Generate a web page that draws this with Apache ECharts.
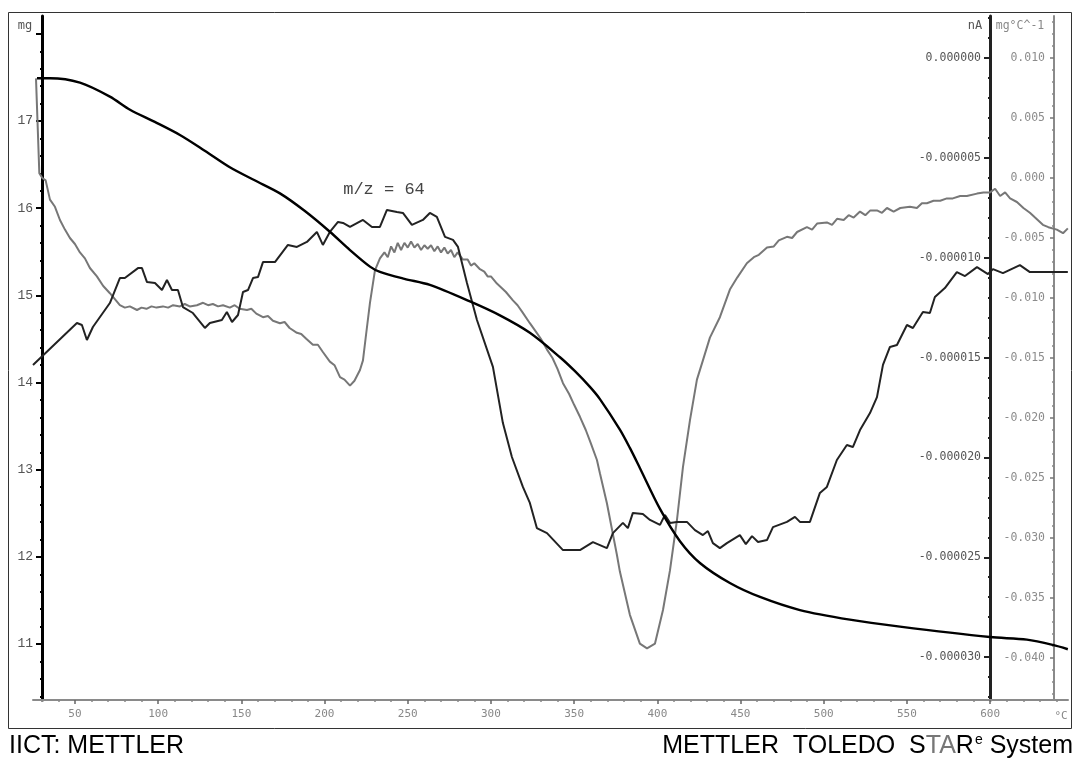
<!DOCTYPE html>
<html><head><meta charset="utf-8">
<script src="https://cdn.jsdelivr.net/npm/echarts@6/dist/echarts.min.js"></script>
<style>html,body{margin:0;padding:0;background:#fff}#c{width:1078px;height:760px}</style>
</head><body><div id="c"></div>
<script>
// ---- data (temperature in °C) ----
const tgT = [27.2, 35.0, 53.0, 71.0, 83.1, 98.0, 113.1, 128.0, 143.1, 158.0, 173.2, 188.0, 203.2, 215.3, 227.3, 233.3, 248.0, 263.3, 287.4, 305.4, 323.4, 341.5, 350.5, 359.5, 365.5, 377.5, 383.5, 389.5, 401.6, 413.6, 425.6, 443.6, 461.7, 485.7, 515.7, 545.8, 599.9, 622.1, 637.7, 646.7];
const tgMg = [17.49, 17.49, 17.44, 17.28, 17.13, 16.99, 16.84, 16.66, 16.47, 16.32, 16.17, 15.97, 15.73, 15.52, 15.33, 15.27, 15.19, 15.12, 14.93, 14.77, 14.57, 14.29, 14.13, 13.95, 13.81, 13.46, 13.25, 13.02, 12.55, 12.18, 11.93, 11.70, 11.54, 11.39, 11.28, 11.20, 11.08, 11.05, 10.99, 10.94];

const msT = [24.8, 51.2, 54.2, 57.2, 60.8, 71.0, 77.0, 80.0, 87.9, 90.3,
  93.3, 98.1, 102.3, 105.3, 108.3, 111.9, 114.9, 120.9, 128.1, 131.1,
  138.3, 141.3, 144.4, 148.0, 151.0, 154.0, 157.0, 160.0, 163.0, 170.2,
  178.0, 183.4, 189.4, 195.4, 199.0, 203.2, 208.1, 211.1, 215.3, 223.1,
  228.5, 233.3, 237.5, 243.5, 247.1, 252.5, 259.1, 263.3, 267.5, 272.4,
  277.2, 280.2, 285.6, 291.6, 301.2, 307.2, 312.6, 319.2, 323.4, 327.6,
  333.7, 343.3, 353.5, 361.3, 369.7, 373.3, 379.3, 382.3, 385.3, 391.3,
  395.6, 401.6, 404.6, 407.6, 411.8, 417.8, 422.6, 427.4, 430.4, 433.4,
  437.6, 441.8, 449.6, 453.2, 456.9, 460.5, 465.9, 469.5, 477.9, 482.7,
  485.7, 491.7, 497.7, 501.9, 507.9, 513.9, 517.5, 521.8, 527.8, 532.0,
  535.6, 539.8, 544.0, 550.0, 553.6, 559.6, 563.8, 566.8, 572.8, 580.0,
  584.9, 592.1, 598.7, 601.7, 607.7, 617.9, 623.9, 634.1, 646.7];
const msNA = [-15.37e-6, -13.27e-6, -13.37e-6, -14.12e-6, -13.47e-6, -12.27e-6, -11.02e-6, -11.02e-6, -10.52e-6, -10.52e-6,
  -11.22e-6, -11.27e-6, -11.62e-6, -11.12e-6, -11.62e-6, -11.62e-6, -12.47e-6, -12.77e-6, -13.52e-6, -13.27e-6,
  -13.12e-6, -12.72e-6, -13.22e-6, -12.87e-6, -11.72e-6, -11.62e-6, -11.02e-6, -10.97e-6, -10.22e-6, -10.22e-6,
  -9.36e-6, -9.46e-6, -9.21e-6, -8.71e-6, -9.36e-6, -8.71e-6, -8.21e-6, -8.26e-6, -8.46e-6, -8.11e-6,
  -8.46e-6, -8.46e-6, -7.61e-6, -7.71e-6, -7.76e-6, -8.36e-6, -8.11e-6, -7.76e-6, -7.96e-6, -8.96e-6,
  -9.11e-6, -9.46e-6, -11.27e-6, -13.12e-6, -15.47e-6, -18.28e-6, -19.98e-6, -21.48e-6, -22.28e-6, -23.54e-6,
  -23.79e-6, -24.64e-6, -24.64e-6, -24.24e-6, -24.54e-6, -23.79e-6, -23.28e-6, -23.54e-6, -22.78e-6, -22.83e-6,
  -23.13e-6, -23.38e-6, -22.88e-6, -23.28e-6, -23.23e-6, -23.23e-6, -23.64e-6, -23.89e-6, -23.69e-6, -24.29e-6,
  -24.54e-6, -24.29e-6, -23.89e-6, -24.34e-6, -23.94e-6, -24.24e-6, -24.14e-6, -23.49e-6, -23.23e-6, -22.98e-6,
  -23.23e-6, -23.23e-6, -21.78e-6, -21.48e-6, -20.13e-6, -19.38e-6, -19.48e-6, -18.63e-6, -17.78e-6, -16.98e-6,
  -15.37e-6, -14.47e-6, -14.37e-6, -13.37e-6, -13.52e-6, -12.72e-6, -12.77e-6, -11.97e-6, -11.52e-6, -10.72e-6,
  -10.92e-6, -10.47e-6, -10.82e-6, -10.57e-6, -10.77e-6, -10.37e-6, -10.72e-6, -10.72e-6, -10.72e-6];

const dtgT = [26.6, 28.6, 30.4, 32.4, 35.0, 38.0, 41.0, 44.0, 47.0, 50.0,
  53.0, 56.0, 59.0, 63.2, 67.0, 71.0, 74.0, 77.0, 80.0, 83.0,
  87.3, 90.0, 93.0, 96.0, 99.0, 102.9, 106.0, 109.0, 113.1, 116.0,
  119.0, 123.3, 127.0, 130.0, 132.9, 136.0, 139.0, 143.1, 146.0, 149.0,
  153.4, 156.0, 159.0, 163.0, 166.0, 169.0, 173.2, 176.0, 179.0, 183.4,
  186.0, 189.0, 193.0, 196.0, 199.0, 203.2, 206.0, 209.3, 212.0, 215.3,
  218.0, 221.3, 223.1, 225.0, 227.3, 230.3, 233.3, 236.0, 238.0, 240.0,
  242.0, 244.0, 246.0, 248.0, 250.0, 252.0, 254.0, 256.0, 258.0, 260.0,
  262.0, 264.0, 266.0, 268.0, 270.0, 272.0, 274.0, 276.0, 278.0, 280.0,
  283.2, 286.0, 288.0, 290.0, 293.4, 296.0, 298.0, 300.0, 303.6, 306.0,
  309.0, 313.2, 316.0, 319.0, 323.4, 327.0, 330.0, 333.7, 337.0, 340.0,
  343.3, 347.0, 350.0, 353.5, 357.0, 360.0, 363.7, 365.5, 369.7, 375.7,
  377.5, 383.5, 389.5, 393.8, 398.6, 403.4, 407.6, 411.8, 415.4, 419.6,
  423.8, 427.4, 431.6, 437.6, 443.6, 448.0, 453.8, 458.0, 461.0, 465.9,
  470.0, 473.0, 477.9, 481.0, 484.0, 489.9, 493.0, 496.0, 501.9, 505.0,
  508.0, 512.0, 515.0, 518.0, 521.8, 525.0, 528.0, 532.0, 535.0, 538.0,
  542.0, 546.0, 551.8, 556.0, 559.0, 562.0, 566.0, 570.0, 574.0, 577.6,
  582.0, 586.0, 592.1, 596.0, 599.9, 603.0, 606.0, 609.0, 612.0, 616.1,
  620.0, 623.9, 627.0, 631.7, 635.0, 640.1, 643.8, 646.7];
const dtgV = [0.0083, 0.0004, 0.0000, -0.0002, -0.0018, -0.0024, -0.0035, -0.0043, -0.0050, -0.0055,
  -0.0062, -0.0067, -0.0075, -0.0082, -0.0090, -0.0096, -0.0101, -0.0106, -0.0108, -0.0107,
  -0.0110, -0.0108, -0.0109, -0.0107, -0.0108, -0.0107, -0.0108, -0.0106, -0.0107, -0.0105,
  -0.0107, -0.0106, -0.0104, -0.0106, -0.0105, -0.0107, -0.0106, -0.0108, -0.0106, -0.0109,
  -0.0110, -0.0109, -0.0113, -0.0116, -0.0115, -0.0119, -0.0121, -0.0120, -0.0125, -0.0129,
  -0.0130, -0.0134, -0.0139, -0.0139, -0.0145, -0.0153, -0.0156, -0.0166, -0.0168, -0.0173,
  -0.0169, -0.0160, -0.0152, -0.0130, -0.0104, -0.0077, -0.0067, -0.0062, -0.0066, -0.0057,
  -0.0062, -0.0054, -0.0060, -0.0054, -0.0058, -0.0053, -0.0058, -0.0055, -0.0060, -0.0056,
  -0.0059, -0.0056, -0.0061, -0.0057, -0.0062, -0.0058, -0.0063, -0.0060, -0.0066, -0.0062,
  -0.0068, -0.0068, -0.0073, -0.0071, -0.0076, -0.0078, -0.0082, -0.0082, -0.0088, -0.0091,
  -0.0095, -0.0102, -0.0106, -0.0112, -0.0121, -0.0128, -0.0134, -0.0143, -0.0150, -0.0159,
  -0.0171, -0.0180, -0.0189, -0.0199, -0.0210, -0.0221, -0.0235, -0.0246, -0.0271, -0.0314,
  -0.0328, -0.0364, -0.0388, -0.0392, -0.0388, -0.0360, -0.0327, -0.0285, -0.0241, -0.0202,
  -0.0168, -0.0152, -0.0133, -0.0116, -0.0093, -0.0083, -0.0071, -0.0066, -0.0064, -0.0058,
  -0.0057, -0.0052, -0.0049, -0.0050, -0.0045, -0.0041, -0.0043, -0.0038, -0.0037, -0.0039,
  -0.0034, -0.0035, -0.0031, -0.0033, -0.0028, -0.0031, -0.0027, -0.0027, -0.0029, -0.0025,
  -0.0028, -0.0025, -0.0024, -0.0025, -0.0021, -0.0021, -0.0019, -0.0019, -0.0017, -0.0017,
  -0.0015, -0.0015, -0.0013, -0.0012, -0.0012, -0.0009, -0.0015, -0.0012, -0.0017, -0.0020,
  -0.0025, -0.0029, -0.0033, -0.0039, -0.0041, -0.0043, -0.0046, -0.0042];

// ---- tick values ----
const xMajor = [50, 100, 150, 200, 250, 300, 350, 400, 450, 500, 550, 600];
const xMinor = [30, 40, 60, 70, 80, 90, 110, 120, 130, 140, 160, 170, 180, 190, 210, 220, 230, 240, 260, 270, 280, 290, 310, 320, 330, 340, 360, 370, 380, 390, 410, 420, 430, 440, 460, 470, 480, 490, 510, 520, 530, 540, 560, 570, 580, 590, 610, 620, 630, 640];
const mgMajor = [11, 12, 13, 14, 15, 16, 17, 18];
const mgMinor = [10.4, 10.6, 10.8, 11.2, 11.4, 11.6, 11.8, 12.2, 12.4, 12.6, 12.8, 13.2, 13.4, 13.6, 13.8, 14.2, 14.4, 14.6, 14.8, 15.2, 15.4, 15.6, 15.8, 16.2, 16.4, 16.6, 16.8, 17.2, 17.4, 17.6, 17.8];
const naMajor = [0, -0.000005, -0.00001, -0.000015, -0.00002, -0.000025, -0.00003];
const naMinor = [0.000002, 0.000001, -0.000001, -0.000002, -0.000003, -0.000004, -0.000006, -0.000007, -0.000008, -0.000009, -0.000011, -0.000012, -0.000013, -0.000014, -0.000016, -0.000017, -0.000018, -0.000019, -0.000021, -0.000022, -0.000023, -0.000024, -0.000026, -0.000027, -0.000028, -0.000029, -0.000031, -0.000032];
const dtgMajor = [0.01, 0.005, 0, -0.005, -0.01, -0.015, -0.02, -0.025, -0.03, -0.035, -0.04];
const dtgMinor = [0.013, 0.012, 0.011, 0.009, 0.008, 0.007, 0.006, 0.004, 0.003, 0.002, 0.001, -0.001, -0.002, -0.003, -0.004, -0.006, -0.007, -0.008, -0.009, -0.011, -0.012, -0.013, -0.014, -0.016, -0.017, -0.018, -0.019, -0.021, -0.022, -0.023, -0.024, -0.026, -0.027, -0.028, -0.029, -0.031, -0.032, -0.033, -0.034, -0.036, -0.037, -0.038, -0.039, -0.041, -0.042, -0.043];

const zip = (a, b) => a.map((v, i) => [v, b[i]]);
const MONO = 'DejaVu Sans Mono';

const X_MIN = 24.8, X_MAX = 646.8;
const MG = {min: 10.358, max: 18.205};
const NA = {min: -0.000032148, max: 0.000002103};
const DT = {min: -0.0435, max: 0.0135};

function yAx(range, pos, offset, cfg) {
  return Object.assign({
    type: 'value', position: pos, offset: offset, min: range.min, max: range.max,
    splitLine: {show: false}, axisLine: {show: false, onZero: false},
    axisTick: {show: false}, axisLabel: {show: false}
  }, cfg);
}

const chart = echarts.init(document.getElementById('c'), null, {renderer: 'canvas'});
chart.setOption({
  backgroundColor: '#fff',
  animation: false,
  grid: {left: 33, right: 10, top: 16, bottom: 60, containLabel: false},
  xAxis: [
    {type: 'value', min: X_MIN, max: X_MAX, position: 'bottom',
     splitLine: {show: false},
     axisLine: {onZero: false, lineStyle: {color: '#8a8a8a', width: 2}},
     axisTick: {customValues: xMajor, length: 4, lineStyle: {color: '#666', width: 1.5}},
     axisLabel: {customValues: xMajor, margin: 9, color: '#888', fontFamily: MONO, fontSize: 11}},
    {type: 'value', min: X_MIN, max: X_MAX, position: 'bottom',
     splitLine: {show: false}, axisLine: {show: false, onZero: false},
     axisTick: {customValues: xMinor, length: 2, lineStyle: {color: '#888', width: 1.5}},
     axisLabel: {show: false}}
  ],
  yAxis: [
    yAx(MG, 'left', -9, {
      axisLine: {show: true, onZero: false, lineStyle: {color: '#000', width: 3}},
      axisTick: {show: true, customValues: mgMajor, length: 6, lineStyle: {color: '#000', width: 2}},
      axisLabel: {show: true, customValues: mgMajor, margin: 9, color: '#555', fontFamily: 'Liberation Mono', fontSize: 13,
        formatter: v => (v >= 17.9 ? '' : String(v))}
    }),
    yAx(MG, 'left', -9, {
      axisTick: {show: true, customValues: mgMinor, length: 2, lineStyle: {color: '#000', width: 2}}
    }),
    yAx(NA, 'right', -78, {
      axisLine: {show: true, onZero: false, lineStyle: {color: '#222', width: 3}},
      axisTick: {show: true, inside: true, customValues: naMajor, length: 6, lineStyle: {color: '#222', width: 2}},
      axisLabel: {show: true, inside: true, customValues: naMajor, margin: 9, color: '#555', fontFamily: MONO, fontSize: 11.5,
        formatter: v => v.toFixed(6)}
    }),
    yAx(NA, 'right', -78, {
      axisTick: {show: true, inside: true, customValues: naMinor, length: 2, lineStyle: {color: '#222', width: 2}}
    }),
    yAx(DT, 'right', -14, {
      axisLine: {show: true, onZero: false, lineStyle: {color: '#8a8a8a', width: 2}},
      axisTick: {show: true, inside: true, customValues: dtgMajor, length: 4, lineStyle: {color: '#777', width: 1.5}},
      axisLabel: {show: true, inside: true, customValues: dtgMajor, margin: 9, color: '#8c8c8c', fontFamily: MONO, fontSize: 11.5,
        formatter: v => v.toFixed(3)}
    }),
    yAx(DT, 'right', -14, {
      axisTick: {show: true, inside: true, customValues: dtgMinor, length: 2, lineStyle: {color: '#888', width: 1.5}}
    })
  ],
  series: [
    {name: 'DTG', type: 'line', xAxisIndex: 0, yAxisIndex: 4, data: zip(dtgT, dtgV),
     showSymbol: false, smooth: false, lineStyle: {color: '#777', width: 2}, z: 3},
    {name: 'm/z 64', type: 'line', xAxisIndex: 0, yAxisIndex: 2, data: zip(msT, msNA),
     showSymbol: false, smooth: false, lineStyle: {color: '#222', width: 2}, z: 4},
    {name: 'TG', type: 'line', xAxisIndex: 0, yAxisIndex: 0, data: zip(tgT, tgMg),
     showSymbol: false, smooth: 0.3, lineStyle: {color: '#000', width: 2.4}, z: 5}
  ],
  graphic: [
    {type: 'rect', shape: {x: 8.5, y: 12.5, width: 1063, height: 716}, style: {fill: 'none', stroke: '#333', lineWidth: 1}, silent: true},
    {type: 'text', x: 25, y: 26, style: {text: 'mg', fill: '#555', font: '12px ' + MONO, align: 'center', verticalAlign: 'middle'}},
    {type: 'text', x: 975, y: 26, style: {text: 'nA', fill: '#555', font: '12px ' + MONO, align: 'center', verticalAlign: 'middle'}},
    {type: 'text', x: 1020, y: 26, style: {text: 'mg°C^-1', fill: '#888', font: '11.5px ' + MONO, align: 'center', verticalAlign: 'middle'}},
    {type: 'text', x: 1061, y: 716, style: {text: '°C', fill: '#888', font: '11px ' + MONO, align: 'center', verticalAlign: 'middle'}},
    {type: 'text', x: 384, y: 189, style: {text: 'm/z = 64', fill: '#444', font: '17px "Liberation Mono"', align: 'center', verticalAlign: 'middle'}},
    {type: 'text', x: 9, y: 746, style: {text: 'IICT: METTLER', fill: '#000', font: '25px "Liberation Sans"', align: 'left', verticalAlign: 'middle'}},
    {type: 'text', x: 1073, y: 746, style: {
      text: '{a|METTLER  TOLEDO  S}{b|TA}{a|R}{s|e}{a| System}',
      align: 'right', verticalAlign: 'middle',
      rich: {
        a: {fill: '#000', font: '25px "Liberation Sans"', verticalAlign: 'bottom'},
        b: {fill: '#777', font: '25px "Liberation Sans"', verticalAlign: 'bottom'},
        s: {fill: '#000', font: '14px "Liberation Sans"', verticalAlign: 'top', padding: [0, 0, 12, 1]}
      }}}
  ]
});
</script></body></html>
